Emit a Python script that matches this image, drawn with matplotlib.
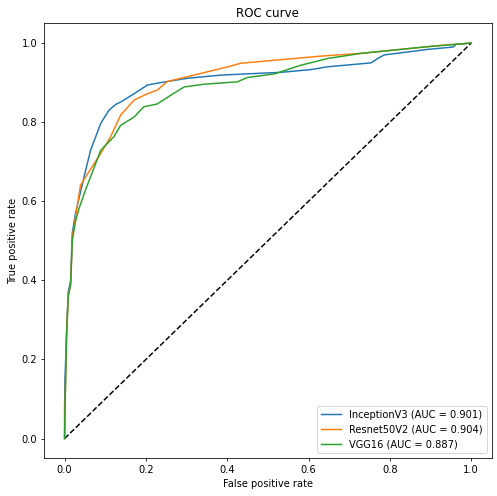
import matplotlib
matplotlib.use('Agg')
import matplotlib.pyplot as plt

# values
fpr_inception = [0, 0, 0.001, 0.005, 0.009, 0.015, 0.019, 0.027, 0.048, 0.064, 0.089, 0.109,
                 0.126, 0.138, 0.171, 0.204, 0.236, 0.302, 0.384, 0.466, 0.532, 0.606, 0.647,
                 0.754, 0.77, 0.786, 0.893, 0.955, 0.963, 1.0]
tpr_inception = [0, 0.07, 0.15, 0.27, 0.37, 0.40, 0.52, 0.57, 0.662, 0.729, 0.797, 0.830,
                 0.845, 0.851, 0.872, 0.894, 0.900, 0.911, 0.919, 0.923, 0.926, 0.933, 0.94,
                 0.95, 0.961, 0.97, 0.984, 0.99, 0.997, 1.0]

fpr_resnet = [0, 0.001, 0.005, 0.009, 0.015, 0.019, 0.027, 0.039, 0.052, 0.089, 0.113,
              0.138, 0.171, 0.204, 0.228, 0.253, 0.318, 0.409, 0.433, 0.499, 0.63, 0.729,
              0.934, 1.0]
tpr_resnet = [0, 0.07, 0.27, 0.36, 0.39, 0.51, 0.56, 0.64, 0.662, 0.721, 0.763,
              0.818, 0.856, 0.872, 0.881, 0.903, 0.919, 0.942, 0.949, 0.955, 0.967, 0.974,
              0.995, 1.0]

fpr_vgg = [0, 0.001, 0.005, 0.009, 0.015, 0.019, 0.027, 0.035, 0.052, 0.064, 0.089, 0.121,
           0.138, 0.171, 0.195, 0.228, 0.261, 0.294, 0.343, 0.425, 0.450, 0.516, 0.581, 0.647,
           0.729, 0.893, 1.0]
tpr_vgg = [0, 0.07, 0.26, 0.36, 0.39, 0.50, 0.55, 0.58, 0.63, 0.662, 0.729, 0.763,
           0.792, 0.813, 0.839, 0.846, 0.868, 0.889, 0.896, 0.902, 0.913, 0.922, 0.944, 0.961,
           0.974, 0.991, 1.0]

labels = ['InceptionV3 (AUC = 0.901)', 'Resnet50V2 (AUC = 0.904)', 'VGG16 (AUC = 0.887)']

fig = plt.figure(figsize=(7, 6.986), dpi=71)
ax = fig.add_subplot(1, 1, 1)
fig.subplots_adjust(left=0.089, right=0.989, bottom=0.076, top=0.953)

ax.plot([0, 1], [0, 1], 'k--')
ax.plot(fpr_inception, tpr_inception, label=labels[0])
ax.plot(fpr_resnet, tpr_resnet, label=labels[1])
ax.plot(fpr_vgg, tpr_vgg, label=labels[2])

ax.set_xlabel('False positive rate')
ax.set_ylabel('True positive rate')
ax.set_title('ROC curve')
ax.legend(loc='lower right')

fig.savefig('out.png', dpi=71)
